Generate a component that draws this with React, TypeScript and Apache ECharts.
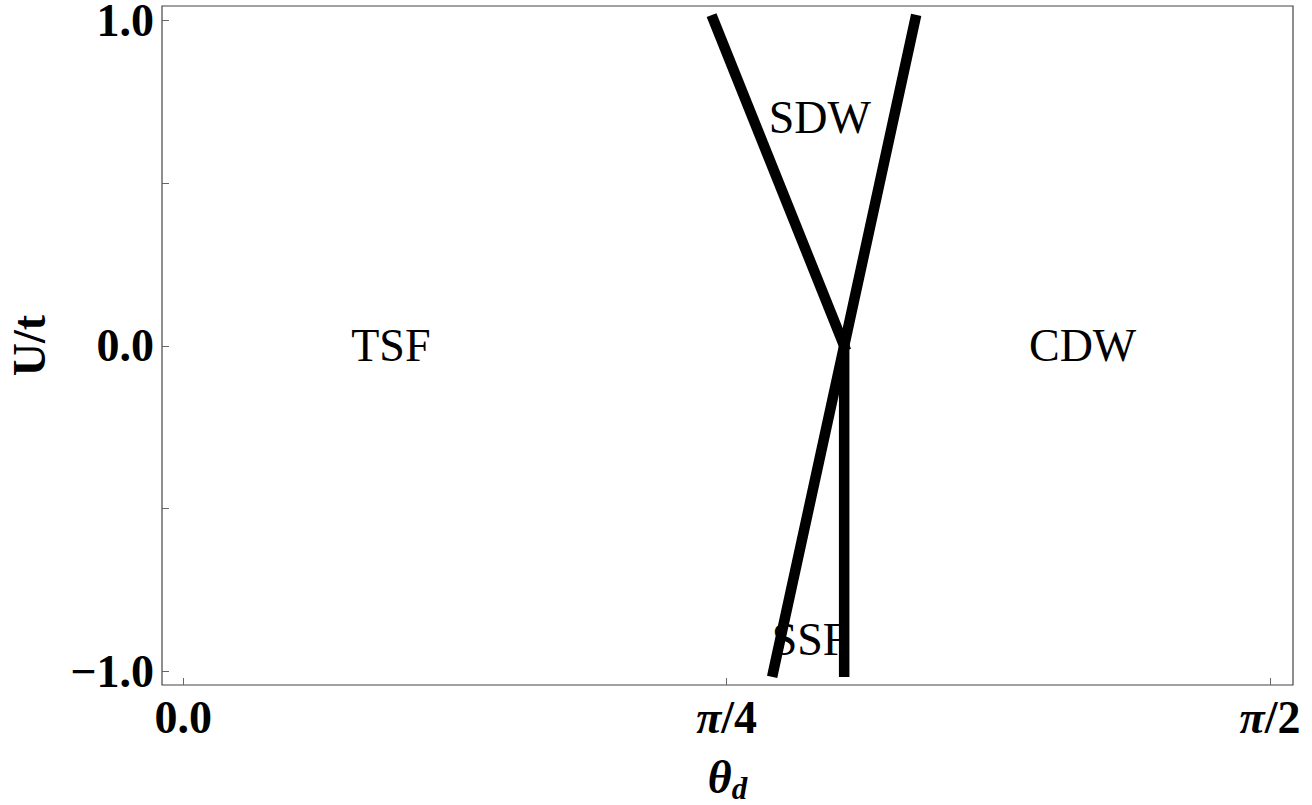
import React, { useEffect, useRef } from "react";
import * as echarts from "echarts";

// Phase boundaries in the (theta_d, U/t) plane
const boundaryA_theta = [0.7664, 0.9553];
const boundaryA_U = [1.0, 0.0];
const boundaryB_theta = [0.8528, 1.0578];
const boundaryB_U = [-1.0, 1.0];
const boundaryC_theta = [0.9553, 0.9553];
const boundaryC_U = [-1.0, 0.0];

// Phase region labels
const regionNames = ["TSF", "CDW", "SDW", "SSF"];
const regionTheta = [0.3, 1.3, 0.92, 0.906];
const regionU = [0.0, 0.0, 0.7, -0.9];

// Axis ticks
const xTickValues = [0, Math.PI / 4, Math.PI / 2];
const xTickLabels = ["0.0", "{p|π}/4", "{p|π}/2"];
const yTickValues = [-1, -0.5, 0, 0.5, 1];
const yLabelValues = [-1, 0, 1];
const yTickLabels = ["\u22121.0", "0.0", "1.0"];

const FONT = "'Liberation Serif', 'Times New Roman', serif";
const SIZE = 46;

const pairs = (xs: number[], ys: number[]) => xs.map((x, i) => [x, ys[i]]);

export default function App() {
  const ref = useRef<HTMLDivElement>(null);

  useEffect(() => {
    if (!ref.current) return;
    const chart = echarts.init(ref.current, null, { renderer: "svg" });

    const boundaryStyle = {
      type: "line" as const,
      symbol: "none",
      z: 5,
      lineStyle: { color: "#000", width: 10.5, cap: "square" as const },
    };

    chart.setOption({
      animation: false,
      backgroundColor: "#fff",
      grid: {
        left: 162,
        top: 6,
        width: 1131,
        height: 679,
        show: true,
        borderColor: "#444",
        borderWidth: 1.2,
        containLabel: false,
        outerBoundsMode: "none",
      },
      xAxis: {
        type: "value",
        min: -0.0308,
        max: 1.6041,
        axisLine: { show: false, onZero: false },
        splitLine: { show: false },
        axisTick: {
          show: true,
          inside: true,
          length: 7,
          customValues: xTickValues,
          lineStyle: { color: "#666", width: 1 },
        },
        axisLabel: {
          customValues: xTickValues,
          margin: 9,
          color: "#000",
          fontFamily: FONT,
          fontWeight: "bold",
          fontSize: SIZE,
          formatter: (v: number) => {
            const i = xTickValues.findIndex((t) => Math.abs(t - v) < 1e-6);
            return i >= 0 ? xTickLabels[i] : "";
          },
          rich: {
            p: { fontFamily: FONT, fontWeight: "bold", fontStyle: "italic", fontSize: SIZE, color: "#000" },
          },
        },
        name: "{t|θ}{s|d}",
        nameLocation: "middle",
        nameGap: 66,
        nameTextStyle: {
          rich: {
            t: { fontFamily: FONT, fontWeight: "bold", fontStyle: "italic", fontSize: SIZE, color: "#000" },
            s: {
              fontFamily: FONT,
              fontWeight: "bold",
              fontStyle: "italic",
              fontSize: 31,
              color: "#000",
              padding: [22, 0, 0, 0],
            },
          },
        },
      },
      yAxis: {
        type: "value",
        min: -1.041,
        max: 1.043,
        axisLine: { show: false, onZero: false },
        splitLine: { show: false },
        axisTick: {
          show: true,
          inside: true,
          length: 7,
          customValues: yTickValues,
          lineStyle: { color: "#666", width: 1 },
        },
        axisLabel: {
          customValues: yLabelValues,
          margin: 8,
          color: "#000",
          fontFamily: FONT,
          fontWeight: "bold",
          fontSize: SIZE,
          lineHeight: 34,
          formatter: (v: number) => {
            const i = yLabelValues.findIndex((t) => Math.abs(t - v) < 1e-6);
            return i >= 0 ? yTickLabels[i] : "";
          },
        },
        name: "U/t",
        nameLocation: "middle",
        nameGap: 110,
        nameTextStyle: {
          fontFamily: FONT,
          fontWeight: "bold",
          fontSize: SIZE,
          color: "#000",
        },
      },
      series: [
        {
          type: "scatter",
          z: 2,
          symbolSize: 1,
          itemStyle: { color: "rgba(0,0,0,0)" },
          data: regionNames.map((n, i) => ({ name: n, value: [regionTheta[i], regionU[i]] })),
          label: {
            show: true,
            position: "inside",
            align: "center",
            verticalAlign: "middle",
            formatter: (p: any) => p.name,
            fontFamily: FONT,
            fontSize: SIZE,
            color: "#000000",
            opacity: 1,
          },
        },
        { ...boundaryStyle, data: pairs(boundaryA_theta, boundaryA_U) },
        { ...boundaryStyle, data: pairs(boundaryB_theta, boundaryB_U) },
        { ...boundaryStyle, data: pairs(boundaryC_theta, boundaryC_U) },
      ],
    });

    return () => chart.dispose();
  }, []);

  return (
    <div
      ref={ref}
      style={{ position: "fixed", left: 0, top: 0, width: 1312, height: 805 }}
    />
  );
}
